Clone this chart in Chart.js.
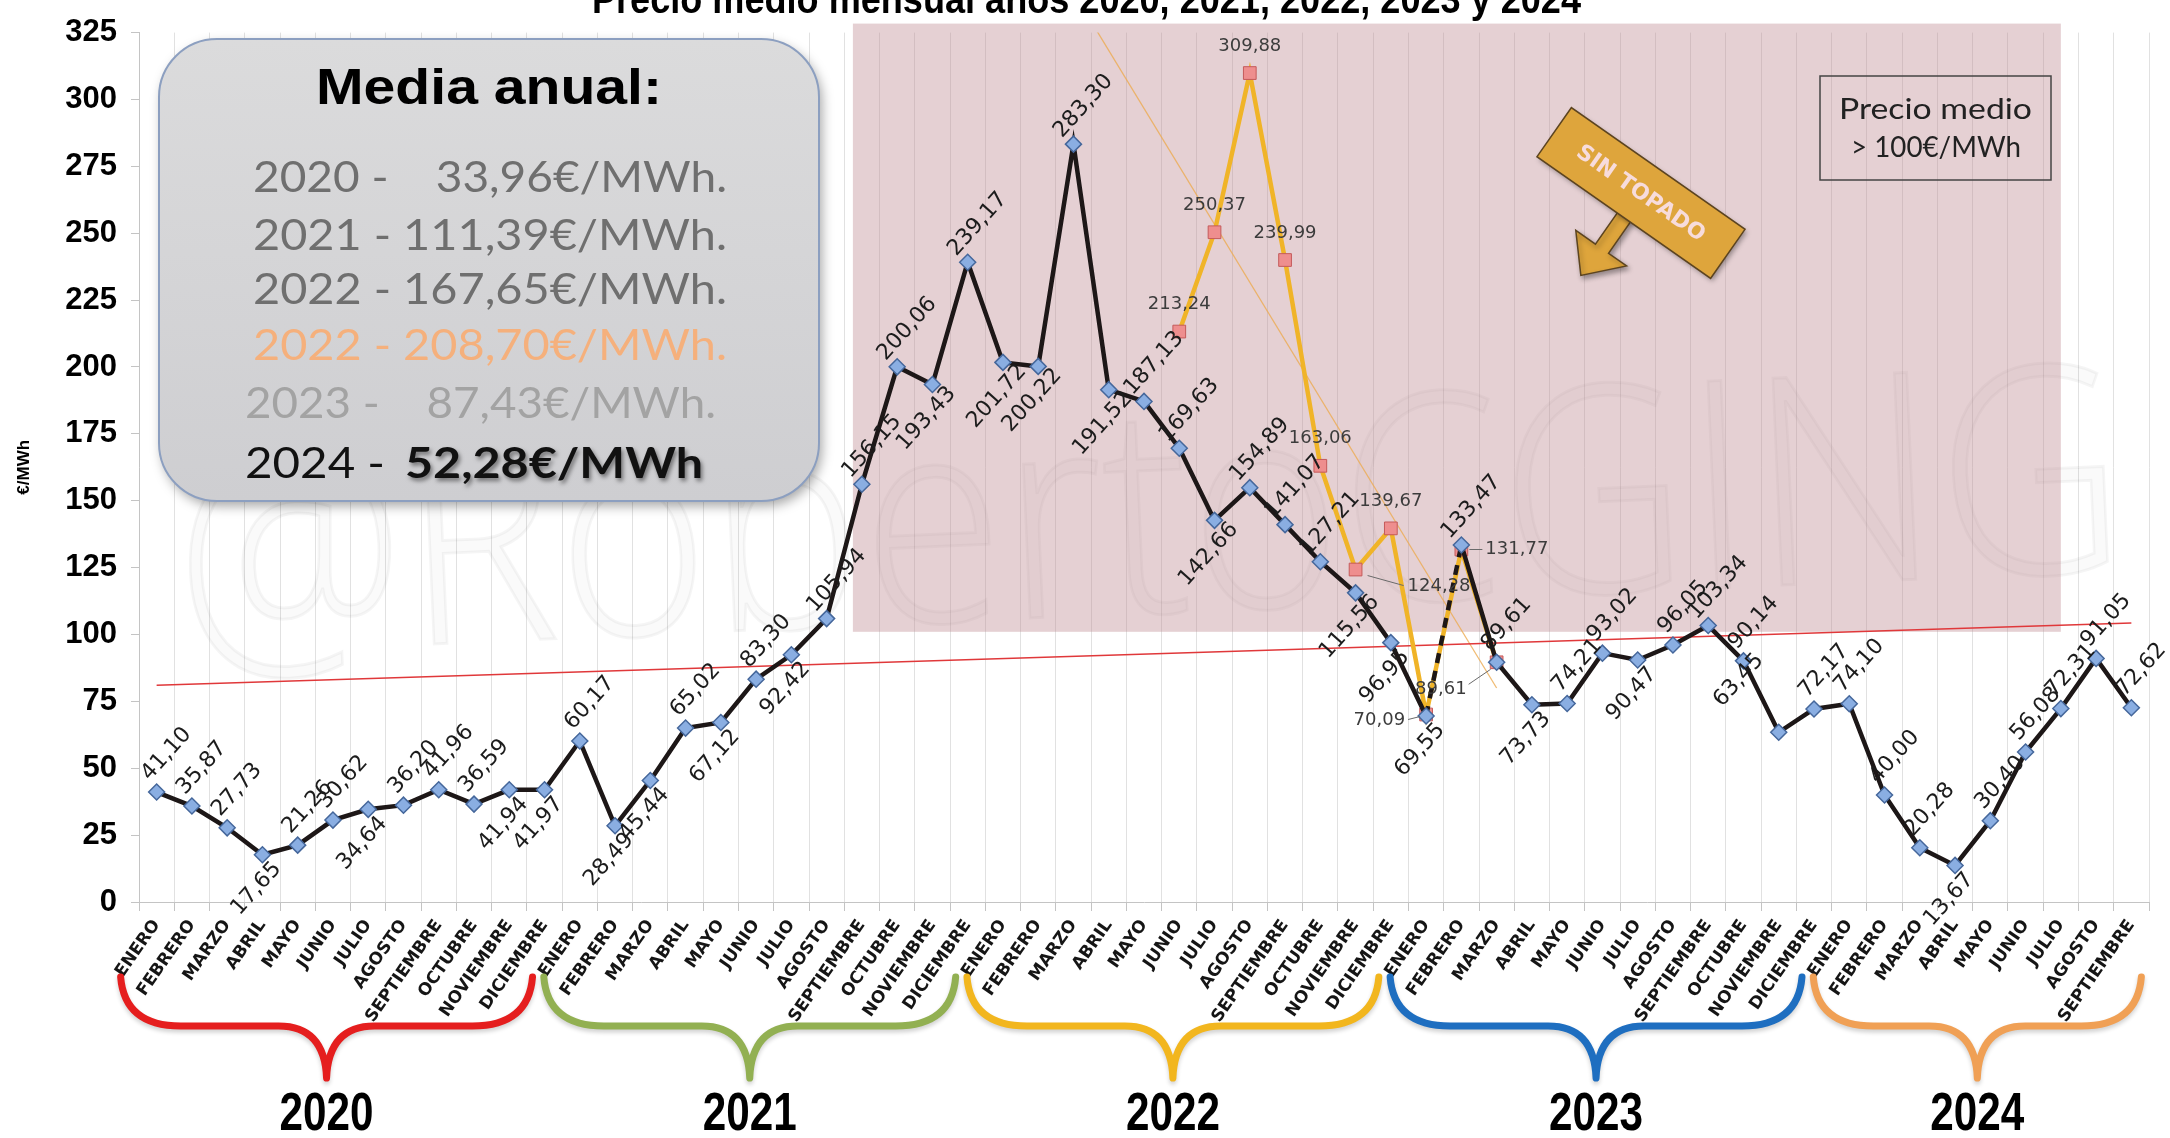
<!DOCTYPE html>
<html>
<head>
<meta charset="utf-8">
<title>Precio medio mensual 2020-2024</title>
<script src="https://cdn.jsdelivr.net/npm/chart.js@4.4.0/dist/chart.umd.min.js"></script>
<style>
  html, body { margin: 0; padding: 0; background: #fff; }
  canvas { display: block; }
</style>
</head>
<body>
<canvas id="priceChart" width="2170" height="1138"></canvas>
<script>
// Month names on the x axis
const months = ['ENERO', 'FEBRERO', 'MARZO', 'ABRIL', 'MAYO', 'JUNIO', 'JULIO', 'AGOSTO',
  'SEPTIEMBRE', 'OCTUBRE', 'NOVIEMBRE', 'DICIEMBRE'];
const years = ['2020', '2021', '2022', '2023', '2024'];

// Precio medio mensual (€/MWh)
const price2020 = [41.10, 35.87, 27.73, 17.65, 21.26, 30.62, 34.64, 36.20, 41.96, 36.59, 41.94, 41.97];
const price2021 = [60.17, 28.49, 45.44, 65.02, 67.12, 83.30, 92.42, 105.94, 156.15, 200.06, 193.43, 239.17];
const price2022 = [201.72, 200.22, 283.30, 191.52, 187.13, 169.63, 142.66, 154.89, 141.07, 127.21, 115.56, 96.95];
const price2023 = [69.55, 133.47, 89.61, 73.73, 74.21, 93.02, 90.47, 96.05, 103.34, 90.14, 63.45, 72.17];
const price2024 = [74.10, 40.00, 20.28, 13.67, 30.40, 56.08, 72.31, 91.05, 72.62];

// Price without the gas cap ("sin topado"), June 2022 to March 2023
const sinTopadoStart = 29;
const sinTopado = [213.24, 250.37, 309.88, 239.99, 163.06, 124.28, 139.67, 70.09, 131.77, 89.61];

// Trend lines as [month index] / [value]
const trendMediaIdx = [0, 56];
const trendMediaVal = [81.0, 104.3];
const trendTopeIdx = [26, 38];
const trendTopeVal = [340, 80];

// Shaded zone "precio medio > 100 €/MWh"
const zoneFrom = 20;
const zoneTo = 54;
const zoneMin = 101;

// Media anual box
const mediaYears = ['2020', '2021', '2022', '2022', '2023', '2024'];
const mediaValues = ['33,96', '111,39', '167,65', '208,70', '87,43', '52,28'];

// Where each value label sits: a = above, b = below, u = up-left
const labelSide = [
  'a', 'a', 'a', 'b', 'a', 'a', 'b', 'a', 'a', 'a', 'b', 'b',
  'a', 'b', 'b', 'a', 'b', 'a', 'b', 'a', 'a', 'a', 'b', 'a',
  'b', 'b', 'a', 'b', 'a', 'a', 'b', 'a', 'a', 'a', 'b', 'b',
  'b', 'a', 'a', 'b', 'a', 'a', 'b', 'a', 'a', 'a', 'u', 'a',
  'a', 'a', 'a', 'b', 'a', 'a', 'a', 'a', 'a'
];
const topeSide = ['a', 'a', 'a', 'a', 'a', 'r', 'a', 'l', 'rn', 'bl'];

const priceData = [].concat(price2020, price2021, price2022, price2023, price2024);
const monthLabels = priceData.map((v, i) => months[i % 12]);
const sinTopadoData = priceData.map((v, i) => {
  const j = i - sinTopadoStart;
  return j >= 0 && j < sinTopado.length ? sinTopado[j] : null;
});
const sparse = (idx, val) => priceData.map((v, i) => {
  const k = idx.indexOf(i);
  return k >= 0 ? val[k] : null;
});

const fmt = v => v.toFixed(2).replace('.', ',');
const rad = d => d * Math.PI / 180;

// draw text squeezed/stretched horizontally to a given width
function fitText(ctx, text, x, y, w) {
  const m = ctx.measureText(text).width;
  ctx.save();
  ctx.translate(x, y);
  ctx.scale(w / m, 1);
  ctx.fillText(text, 0, 0);
  ctx.restore();
}

function drawValueLabels(chart) {
  const ctx = chart.ctx;
  const black = chart.getDatasetMeta(0).data;
  ctx.save();
  ctx.font = '22px "DejaVu Sans"';
  ctx.fillStyle = '#1c1c1c';
  ctx.textAlign = 'center';
  ctx.textBaseline = 'middle';
  black.forEach((pt, i) => {
    let dx = 10, dy = -38;
    if (labelSide[i] === 'b') { dx = -6; dy = 34; }
    if (labelSide[i] === 'u') { dx = -40; dy = -52; }
    ctx.save();
    ctx.translate(pt.x + dx, pt.y + dy);
    ctx.rotate(rad(-48));
    ctx.fillText(fmt(priceData[i]), 0, 0);
    ctx.restore();
  });

  // labels of the "sin topado" line, horizontal, some with a leader line
  const tope = chart.getDatasetMeta(1).data;
  ctx.font = '18px "DejaVu Sans"';
  ctx.fillStyle = '#3c3c3c';
  ctx.strokeStyle = '#6a6a6a';
  ctx.lineWidth = 1;
  sinTopado.forEach((v, j) => {
    const pt = tope[sinTopadoStart + j];
    const side = topeSide[j];
    const txt = fmt(v);
    let lead = null;
    if (side === 'a') {
      ctx.textAlign = 'center';
      ctx.fillText(txt, pt.x, pt.y - 27);
      return;
    }
    if (side === 'r') {
      ctx.textAlign = 'left';
      ctx.fillText(txt, pt.x + 52, pt.y + 17);
      lead = [pt.x + 12, pt.y + 6, pt.x + 48, pt.y + 16];
    } else if (side === 'rn') {
      ctx.textAlign = 'left';
      ctx.fillText(txt, pt.x + 24, pt.y);
      lead = [pt.x + 8, pt.y, pt.x + 21, pt.y];
    } else if (side === 'l') {
      ctx.textAlign = 'right';
      ctx.fillText(txt, pt.x - 21, pt.y + 6);
      lead = [pt.x - 6, pt.y + 2, pt.x - 18, pt.y + 5];
    } else if (side === 'bl') {
      ctx.textAlign = 'right';
      ctx.fillText(txt, pt.x - 30, pt.y + 27);
      lead = [pt.x - 6, pt.y + 7, pt.x - 28, pt.y + 22];
    }
    ctx.beginPath();
    ctx.moveTo(lead[0], lead[1]);
    ctx.lineTo(lead[2], lead[3]);
    ctx.stroke();
  });
  ctx.restore();
}

function drawBanner(ctx) {
  ctx.save();
  ctx.translate(1641, 193);
  ctx.rotate(rad(35));
  ctx.shadowColor = 'rgba(0,0,0,0.35)';
  ctx.shadowBlur = 5;
  ctx.shadowOffsetX = 2;
  ctx.shadowOffsetY = 3;
  ctx.fillStyle = '#DEA53C';
  ctx.strokeStyle = '#5c4420';
  ctx.lineWidth = 1.5;
  // arrow pointing down-left
  ctx.beginPath();
  ctx.moveTo(-8, 28);
  ctx.lineTo(-8, 68);
  ctx.lineTo(-32, 68);
  ctx.lineTo(-2, 102);
  ctx.lineTo(30, 68);
  ctx.lineTo(8, 68);
  ctx.lineTo(8, 28);
  ctx.closePath();
  ctx.fill();
  ctx.stroke();
  ctx.beginPath();
  ctx.rect(-106, -30, 212, 60);
  ctx.fill();
  ctx.shadowColor = 'transparent';
  ctx.stroke();
  ctx.fillStyle = '#F7DCDC';
  ctx.font = 'bold 22px "DejaVu Sans"';
  ctx.textAlign = 'center';
  ctx.textBaseline = 'middle';
  ctx.fillText('SIN TOPADO', 0, 1);
  ctx.restore();
}

function drawZoneNote(ctx) {
  ctx.save();
  ctx.strokeStyle = '#444';
  ctx.lineWidth = 1.5;
  ctx.strokeRect(1820, 76, 231, 104);
  ctx.fillStyle = '#222';
  ctx.font = '28px Lato';
  ctx.textAlign = 'left';
  fitText(ctx, 'Precio medio', 1839, 119, 193);
  fitText(ctx, '> 100€/MWh', 1851, 157, 170);
  ctx.restore();
}

function drawMediaBox(ctx) {
  ctx.save();
  ctx.shadowColor = 'rgba(0,0,0,0.35)';
  ctx.shadowBlur = 12;
  ctx.shadowOffsetX = 3;
  ctx.shadowOffsetY = 5;
  const g = ctx.createLinearGradient(0, 39, 0, 501);
  g.addColorStop(0, '#DBDBDC');
  g.addColorStop(1, '#CECED1');
  ctx.fillStyle = g;
  ctx.beginPath();
  ctx.roundRect(159, 39, 660, 462, 58);
  ctx.fill();
  ctx.shadowColor = 'transparent';
  ctx.strokeStyle = '#8C9FC0';
  ctx.lineWidth = 2;
  ctx.stroke();

  ctx.fillStyle = '#000';
  ctx.font = 'bold 50px "Liberation Sans"';
  fitText(ctx, 'Media anual:', 316, 104, 346);

  const colors = ['#6f6f6f', '#6f6f6f', '#6f6f6f', '#F5B07C', '#A3A3A3'];
  const baselines = [192, 250, 304, 360, 418, 478];
  ctx.font = '42px Lato';
  for (let i = 0; i < 5; i++) {
    const gap = (i === 0 || i === 4) ? '    ' : ' ';
    ctx.fillStyle = colors[i];
    const x0 = i === 4 ? 245 : 253;
    const x1 = i === 4 ? 716 : 727;
    fitText(ctx, mediaYears[i] + ' -' + gap + mediaValues[i] + '€/MWh.', x0, baselines[i], x1 - x0);
  }
  ctx.fillStyle = '#111';
  fitText(ctx, mediaYears[5] + ' -', 245, baselines[5], 140);
  ctx.shadowColor = 'rgba(0,0,0,0.45)';
  ctx.shadowBlur = 4;
  ctx.shadowOffsetX = 2;
  ctx.shadowOffsetY = 3;
  ctx.font = 'bold 42px Lato';
  fitText(ctx, mediaValues[5] + '€/MWh', 405, baselines[5], 298);
  ctx.restore();
}

function drawBrace(ctx, x0, x1, yTop, yMid, yTip, color) {
  const xc = (x0 + x1) / 2;
  ctx.save();
  ctx.strokeStyle = color;
  ctx.lineWidth = 7;
  ctx.lineCap = 'round';
  ctx.lineJoin = 'round';
  ctx.shadowColor = 'rgba(0,0,0,0.18)';
  ctx.shadowBlur = 4;
  ctx.shadowOffsetY = 3;
  ctx.beginPath();
  ctx.moveTo(x0, yTop);
  ctx.quadraticCurveTo(x0 + 4, yMid, x0 + 60, yMid);
  ctx.lineTo(xc - 48, yMid);
  ctx.quadraticCurveTo(xc - 2, yMid, xc, yTip);
  ctx.moveTo(xc, yTip);
  ctx.quadraticCurveTo(xc + 2, yMid, xc + 48, yMid);
  ctx.lineTo(x1 - 60, yMid);
  ctx.quadraticCurveTo(x1 - 4, yMid, x1, yTop);
  ctx.stroke();
  ctx.restore();
}

const decorPlugin = {
  id: 'decor',
  beforeDraw(chart) {
    const { ctx, width, height } = chart;
    ctx.save();
    ctx.fillStyle = '#fff';
    ctx.fillRect(0, 0, width, height);
    ctx.restore();
  },
  beforeDatasetsDraw(chart) {
    const { ctx, chartArea: a, scales: { x, y } } = chart;
    // faint watermark
    ctx.save();
    ctx.translate(180, 655);
    ctx.rotate(rad(-2.5));
    ctx.font = '300 290px "Open Sans"';
    ctx.fillStyle = 'rgba(0,0,0,0.018)';
    ctx.strokeStyle = 'rgba(0,0,0,0.04)';
    ctx.lineWidth = 3;
    const wm = '@RobertoCGING';
    const sx = 1950 / ctx.measureText(wm).width;
    ctx.scale(sx, 1);
    ctx.fillText(wm, 0, 0);
    ctx.strokeText(wm, 0, 0);
    ctx.restore();

    // pink zone above 100 €/MWh
    const x0 = x.getPixelForValue(zoneFrom) - 9;
    const x1 = x.getPixelForValue(zoneTo);
    const y1 = y.getPixelForValue(zoneMin);
    ctx.save();
    ctx.fillStyle = 'rgba(190,138,144,0.40)';
    ctx.fillRect(x0, a.top - 9, x1 - x0, y1 - a.top + 9);
    ctx.restore();
  },
  afterDatasetsDraw(chart) {
    const ctx = chart.ctx;
    drawValueLabels(chart);
    drawBanner(ctx);
    drawZoneNote(ctx);
    drawMediaBox(ctx);
  },
  afterDraw(chart) {
    const { ctx, chartArea: a, scales: { x } } = chart;
    // title, cut at the top edge like the original
    ctx.save();
    ctx.fillStyle = '#000';
    ctx.font = 'bold 40px "Liberation Sans"';
    fitText(ctx, 'Precio medio mensual años 2020, 2021, 2022, 2023 y 2024', 592, 13, 989);
    ctx.restore();

    // year braces under the month labels
    const braceColors = ['#E51E1E', '#92B052', '#F2B61E', '#1E6EC0', '#F0A055'];
    const yTop = a.bottom + 75, yMid = a.bottom + 124, yTip = a.bottom + 176;
    years.forEach((yr, k) => {
      const first = k * 12;
      const last = Math.min(first + 11, priceData.length - 1);
      const bx0 = x.getPixelForValue(first) - 36;
      const bx1 = x.getPixelForValue(last) + (last - first < 11 ? 10 : -12);
      drawBrace(ctx, bx0, bx1, yTop, yMid, yTip, braceColors[k]);
      ctx.save();
      ctx.fillStyle = '#000';
      ctx.font = 'bold 54px "Liberation Sans"';
      fitText(ctx, yr, (bx0 + bx1) / 2 - 47, a.bottom + 228, 94);
      ctx.restore();
    });
  }
};

new Chart(document.getElementById('priceChart'), {
  type: 'line',
  data: {
    labels: monthLabels,
    datasets: [{
      label: 'Precio medio',
      data: priceData,
      order: 1,
      borderColor: '#1d1717',
      borderWidth: 4.5,
      tension: 0,
      pointStyle: 'rectRot',
      pointRadius: 8,
      pointBackgroundColor: '#8AAEE2',
      pointBorderColor: '#45679B',
      pointBorderWidth: 1.5,
      segment: {
        borderDash: c => c.p0DataIndex === 36 ? [10, 8] : undefined
      }
    }, {
      label: 'Sin topado',
      data: sinTopadoData,
      order: 2,
      borderColor: '#F0B428',
      borderWidth: 4.5,
      tension: 0,
      pointStyle: 'rect',
      pointRadius: 9,
      pointBackgroundColor: '#EE8E8E',
      pointBorderColor: '#C45A5A',
      pointBorderWidth: 1
    }, {
      label: 'Tendencia',
      data: sparse(trendMediaIdx, trendMediaVal),
      order: 3,
      spanGaps: true,
      borderColor: '#E0383A',
      borderWidth: 1.6,
      pointRadius: 0
    }, {
      label: 'Tendencia sin topado',
      data: sparse(trendTopeIdx, trendTopeVal),
      order: 3,
      spanGaps: true,
      borderColor: 'rgba(236,170,80,0.8)',
      borderWidth: 1.3,
      pointRadius: 0
    }]
  },
  options: {
    responsive: false,
    animation: false,
    layout: { padding: { left: 14, top: 28, right: 21, bottom: 0 } },
    plugins: {
      legend: { display: false },
      tooltip: { enabled: false }
    },
    scales: {
      x: {
        offset: true,
        grid: { offset: true, color: '#e1e1e1', tickLength: 9, tickColor: '#c4c4c4' },
        border: { color: '#c4c4c4' },
        ticks: {
          autoSkip: false,
          minRotation: 55,
          maxRotation: 55,
          padding: 5,
          color: '#151515',
          font: { family: '"DejaVu Sans"', size: 17, weight: 'bold' }
        },
        afterFit: s => { s.height = 236; }
      },
      y: {
        min: 0,
        max: 325,
        ticks: {
          stepSize: 25,
          padding: 14,
          color: '#000',
          font: { family: '"Liberation Sans"', size: 31, weight: 'bold' }
        },
        grid: { drawOnChartArea: false, tickLength: 8, color: '#c4c4c4' },
        border: { color: '#c4c4c4' },
        title: {
          display: true,
          text: '€/MWh',
          color: '#000',
          padding: 0,
          font: { family: '"Liberation Sans"', size: 17, weight: 'bold' }
        },
        afterFit: s => { s.width = 125; }
      }
    }
  },
  plugins: [decorPlugin]
});
</script>
</body>
</html>
